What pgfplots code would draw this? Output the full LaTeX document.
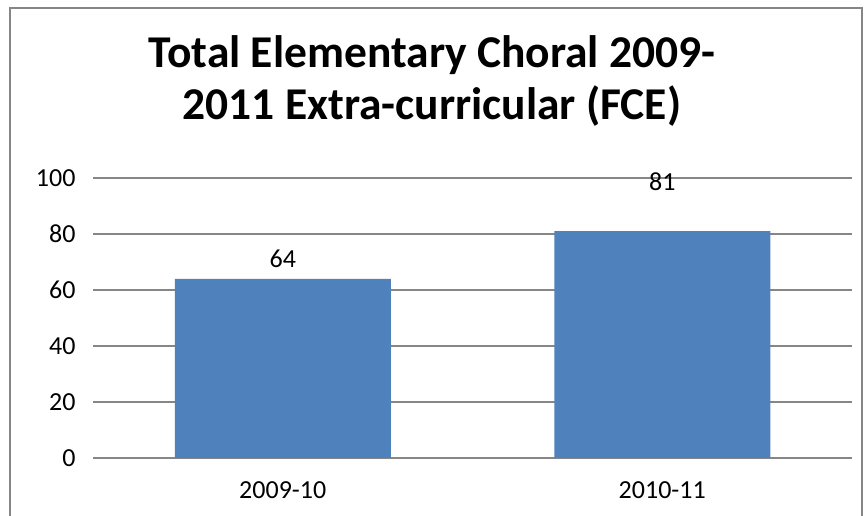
\documentclass[border=0pt]{standalone}
\usepackage{pgfplots}
\pgfplotsset{compat=1.18}
\usepackage{fontspec}
\setmainfont{Carlito}
\definecolor{barblue}{HTML}{4F81BD}
\definecolor{gridgray}{HTML}{868686}
\begin{document}
\begin{tikzpicture}[x=1pt,y=1pt]
\useasboundingbox (0,0) rectangle (865,516);
\draw[gridgray, line width=1.2pt] (10,-20) rectangle (862,508);
\node[font=\fontsize{45.5}{52}\selectfont\bfseries, align=center] at (432,435) {Total Elementary Choral 2009-\\2011 Extra-curricular (FCE)};
\begin{axis}[
  at={(93pt,58pt)}, anchor=south west,
  scale only axis, width=759pt, height=280pt,
  xmin=-0.5, xmax=1.5, ymin=0, ymax=100,
  xtick=data, xticklabels={2009-10,2010-11},
  ytick={0,20,40,60,80,100},
  ymajorgrids, grid style={gridgray, line width=1.2pt},
  axis x line*=bottom, axis y line*=left,
  x axis line style={gridgray, line width=1.5pt, -},
  y axis line style={draw=none},
  major tick length=0pt,
  tick label style={font=\fontsize{26}{31}\selectfont},
  /pgf/number format/assume math mode=true,
  xticklabel style={yshift=-20pt},
  yticklabel style={xshift=-14pt},
  clip=false,
]
\addplot[ybar, bar width=216pt, fill=barblue, draw=none] coordinates {(0,64) (1,81)};
\node[font=\fontsize{26}{31}\selectfont] at (axis cs:0,71.2) {64};
\node[font=\fontsize{26}{31}\selectfont] at (axis cs:1,98.6) {81};
\end{axis}
\end{tikzpicture}
\end{document}
